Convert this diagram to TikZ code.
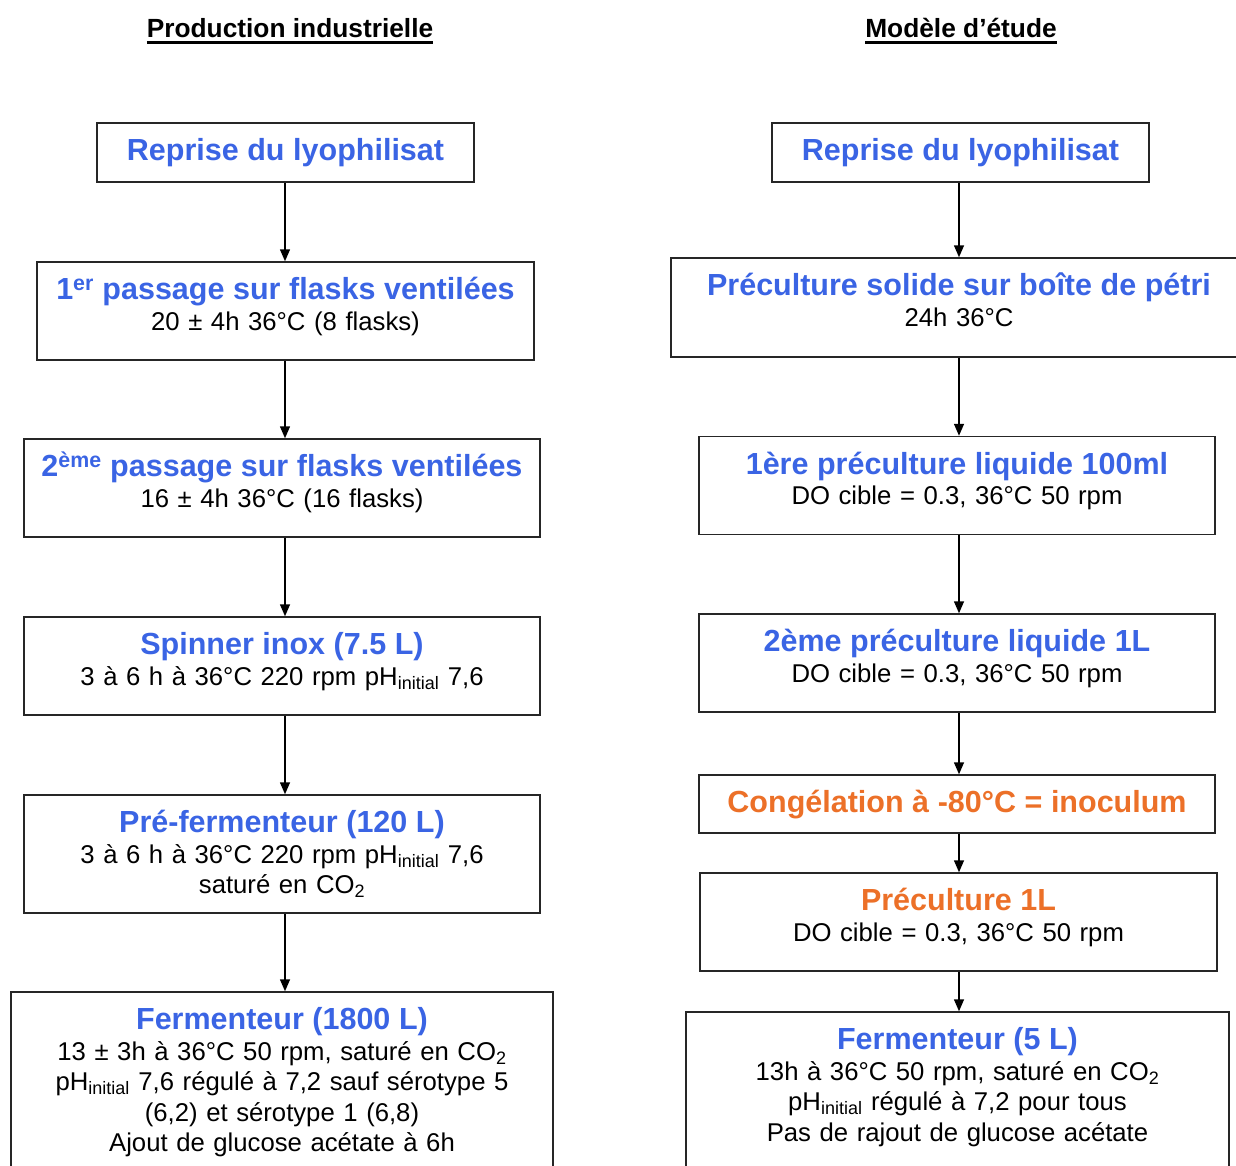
\documentclass[tikz,border=0pt]{standalone}
\usepackage{fontspec}
\setmainfont{Liberation Sans}
\usetikzlibrary{arrows.meta}

\definecolor{bleuetape}{RGB}{58,100,228}
\definecolor{orangeetape}{RGB}{236,112,40}

% titres des etapes
\newcommand{\titre}[1]{{\fontsize{30.5}{30.5}\selectfont\bfseries\color{bleuetape}#1}}
\newcommand{\titreor}[1]{{\fontsize{30.5}{30.5}\selectfont\bfseries\color{orangeetape}#1}}
% soulignement epais des en-tetes
\newcommand{\souligne}[1]{\setbox0=\hbox{#1}\rlap{\copy0}\rule[-6.5pt]{\wd0}{3pt}}
\newcommand{\phini}{pH\textsubscript{initial}}
\newcommand{\cod}{CO\textsubscript{2}}

\begin{document}
\begin{tikzpicture}[x=1pt,y=-1pt,
    etape/.style={draw=black!85, line width=1.5pt, inner sep=0pt, align=center,
        text height=37.5pt, anchor=base, font=\fontsize{25.7}{30.5}\selectfont},
    entete/.style={anchor=base, font=\fontsize{26.3}{30}\selectfont\bfseries},
    fleche/.style={line width=1.5pt, -{Triangle[length=12pt,width=10pt]}}]
    \useasboundingbox (0,0) rectangle (1236,1165);
    \clip (0,0) rectangle (1236,1165);

    \node[entete] (enteteG) at (290,37) {\souligne{Production industrielle}};
    \node[entete] (enteteD) at (961,37) {\souligne{Modèle d’étude}};

    % colonne de gauche
    \node[etape, text width=377pt, text depth=21.5pt] (l1) at (285.5,160.5) {\titre{Reprise du lyophilisat}};
    \node[etape, text width=497pt, text depth=60.5pt] (l2) at (285.5,299.5)
        {\titre{1\textsuperscript{er} passage sur flasks ventilées}\\20 ± 4h 36°C (8 flasks)};
    \node[etape, text width=516pt, text depth=60.5pt] (l3) at (282,476.5)
        {\titre{2\textsuperscript{ème} passage sur flasks ventilées}\\16 ± 4h 36°C (16 flasks)};
    \node[etape, text width=516pt, text depth=60.5pt] (l4) at (282,654.5)
        {\titre{Spinner inox (7.5 L)}\\3 à 6 h à 36°C 220 rpm \phini{} 7,6};
    \node[etape, text width=516pt, text depth=80.5pt] (l5) at (282,832.5)
        {\titre{Pré-fermenteur (120 L)}\\3 à 6 h à 36°C 220 rpm \phini{} 7,6\\saturé en \cod};
    \node[etape, text width=542pt, text depth=152.5pt] (l6) at (282,1029.5)
        {\titre{Fermenteur (1800 L)}\\13 ± 3h à 36°C 50 rpm, saturé en \cod\\
         \phini{} 7,6 régulé à 7,2 sauf sérotype 5\\(6,2) et sérotype 1 (6,8)\\
         Ajout de glucose acétate à 6h};

    % colonne de droite
    \node[etape, text width=377pt, text depth=21.5pt] (r1) at (960.5,160.5) {\titre{Reprise du lyophilisat}};
    \node[etape, text width=576pt, text depth=61.5pt] (r2) at (959,295.5)
        {\titre{Préculture solide sur boîte de pétri}\\24h 36°C};
    \node[etape, text width=516pt, text depth=60.5pt] (r3) at (957,474)
        {\titre{1ère préculture liquide 100ml}\\DO cible = 0.3, 36°C 50 rpm};
    \node[etape, text width=516pt, text depth=60.5pt] (r4) at (957,651.5)
        {\titre{2ème préculture liquide 1L}\\DO cible = 0.3, 36°C 50 rpm};
    \node[etape, text width=516pt, text depth=20.5pt] (r5) at (957,812.5)
        {\titreor{Congélation à -80°C = inoculum}};
    \node[etape, text width=517pt, text depth=60.5pt] (r6) at (958.5,910.5)
        {\titreor{Préculture 1L}\\DO cible = 0.3, 36°C 50 rpm};
    \node[etape, text width=543pt, text depth=152.5pt] (r7) at (957.5,1049.5)
        {\titre{Fermenteur (5 L)}\\13h à 36°C 50 rpm, saturé en \cod\\
         \phini{} régulé à 7,2 pour tous\\Pas de rajout de glucose acétate};

    % fleches
    \coordinate (axeG) at (285,0);
    \coordinate (axeD) at (959,0);
    \foreach \a/\b in {l1/l2,l2/l3,l3/l4,l4/l5,l5/l6}
        \draw[fleche] (axeG |- \a.south) -- (axeG |- \b.north);
    \foreach \a/\b in {r1/r2,r2/r3,r3/r4,r4/r5,r5/r6,r6/r7}
        \draw[fleche] (axeD |- \a.south) -- (axeD |- \b.north);
\end{tikzpicture}
\end{document}
